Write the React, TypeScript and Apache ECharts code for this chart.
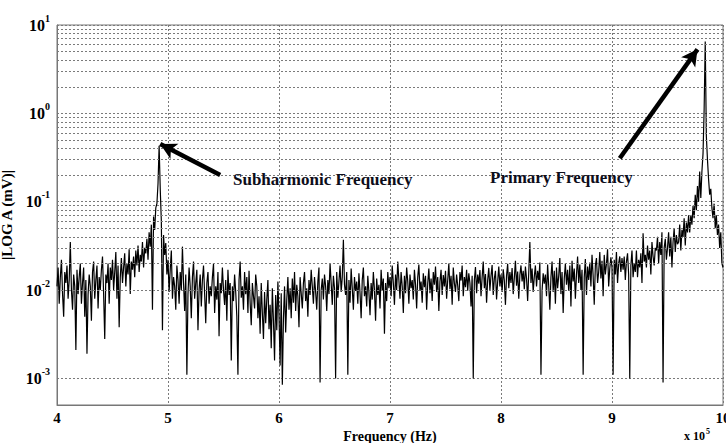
import React, { useEffect, useRef } from "react";
import * as echarts from "echarts";

// Frequency grid (x 10^5 Hz): 4.00 .. 10.00 in steps of 0.01
const FREQ_START = 4;
const FREQ_STEP = 0.01;

// |A| (mV), one row per 0.1 x 10^5 Hz
const amp4 = [
  0.011, 0.018, 0.007, 0.014, 0.022, 0.009, 0.005, 0.016, 0.012, 0.019,
  0.008, 0.013, 0.035, 0.010, 0.006, 0.015, 0.011, 0.0021, 0.017, 0.009,
  0.014, 0.020, 0.007, 0.012, 0.018, 0.005, 0.013, 0.0019, 0.009, 0.015,
  0.011, 0.0045, 0.016, 0.021, 0.008, 0.013, 0.019, 0.0062, 0.014, 0.010,
  0.017, 0.024, 0.009, 0.0028, 0.015, 0.012, 0.020, 0.007, 0.018, 0.013,
  0.022, 0.010, 0.016, 0.027, 0.008, 0.019, 0.0038, 0.014, 0.023, 0.012,
  0.018, 0.026, 0.011, 0.020, 0.015, 0.029, 0.009, 0.021, 0.017, 0.024,
  0.014, 0.028, 0.019, 0.032, 0.016, 0.025, 0.021, 0.035, 0.018, 0.030,
  0.026, 0.038, 0.022, 0.045, 0.031, 0.055, 0.006, 0.068, 0.048, 0.085,
  0.095, 0.16, 0.43, 0.14, 0.06, 0.0035, 0.042, 0.025, 0.034, 0.015,
];
const amp5 = [
  0.022, 0.0095, 0.017, 0.028, 0.008, 0.014, 0.011, 0.006, 0.019, 0.013,
  0.007, 0.016, 0.010, 0.031, 0.012, 0.0058, 0.015, 0.0011, 0.009, 0.018,
  0.011, 0.0048, 0.014, 0.021, 0.008, 0.012, 0.017, 0.0035, 0.010, 0.015,
  0.0065, 0.013, 0.019, 0.009, 0.0042, 0.012, 0.016, 0.007, 0.011, 0.0085,
  0.014, 0.020, 0.0055, 0.011, 0.0078, 0.016, 0.003, 0.012, 0.0092, 0.018,
  0.010, 0.0068, 0.013, 0.0045, 0.017, 0.0088, 0.012, 0.0016, 0.011, 0.0075,
  0.015, 0.0095, 0.005, 0.0011, 0.013, 0.021, 0.0082, 0.011, 0.006, 0.016,
  0.009, 0.014, 0.0055, 0.0165, 0.0072, 0.004, 0.012, 0.0085, 0.0062, 0.015,
  0.011, 0.0048, 0.0085, 0.0032, 0.012, 0.0055, 0.0028, 0.0095, 0.0042, 0.0078,
  0.013, 0.0036, 0.0068, 0.0022, 0.0105, 0.0045, 0.0016, 0.0088, 0.0035, 0.0125,
];
const amp6 = [
  0.0052, 0.0014, 0.0092, 0.00085, 0.0048, 0.011, 0.0033, 0.0078, 0.014, 0.006,
  0.0105, 0.0048, 0.0135, 0.0072, 0.016, 0.0058, 0.0115, 0.0085, 0.0038, 0.014,
  0.0092, 0.0062, 0.012, 0.016, 0.0075, 0.0105, 0.005, 0.013, 0.0088, 0.017,
  0.011, 0.007, 0.014, 0.0095, 0.006, 0.0125, 0.018, 0.0009, 0.01, 0.0135,
  0.0078, 0.015, 0.011, 0.0058, 0.013, 0.009, 0.02, 0.012, 0.0068, 0.0145,
  0.0105, 0.001, 0.016, 0.0082, 0.0125, 0.019, 0.0095, 0.014, 0.037, 0.0115,
  0.0088, 0.016, 0.0011, 0.013, 0.0072, 0.0175, 0.0105, 0.006, 0.014, 0.0098,
  0.0125, 0.007, 0.0155, 0.0092, 0.0048, 0.013, 0.018, 0.0085, 0.011, 0.0065,
  0.0145, 0.0095, 0.0052, 0.012, 0.0078, 0.016, 0.01, 0.0045, 0.0135, 0.0088,
  0.0115, 0.0062, 0.017, 0.0098, 0.0135, 0.0032, 0.012, 0.0075, 0.016, 0.0105,
];
const amp7 = [
  0.014, 0.0085, 0.019, 0.012, 0.0068, 0.015, 0.01, 0.021, 0.013, 0.008,
  0.016, 0.011, 0.0055, 0.0145, 0.0092, 0.018, 0.0125, 0.007, 0.015, 0.0105,
  0.013, 0.0078, 0.017, 0.0115, 0.0062, 0.014, 0.0195, 0.0098, 0.0125, 0.0072,
  0.0155, 0.0108, 0.0145, 0.006, 0.012, 0.0175, 0.0092, 0.0135, 0.0075, 0.016,
  0.0115, 0.0185, 0.0095, 0.014, 0.0058, 0.0125, 0.017, 0.0088, 0.0148, 0.011,
  0.0165, 0.008, 0.013, 0.02, 0.0102, 0.0145, 0.0068, 0.018, 0.012, 0.0095,
  0.015, 0.0112, 0.0075, 0.016, 0.0128, 0.019, 0.0085, 0.014, 0.0108, 0.017,
  0.0098, 0.0155, 0.012, 0.0065, 0.0145, 0.001, 0.013, 0.0182, 0.0092, 0.015,
  0.0118, 0.0168, 0.0085, 0.014, 0.021, 0.0105, 0.0152, 0.0072, 0.013, 0.0178,
  0.01, 0.0145, 0.0192, 0.0088, 0.0135, 0.0165, 0.0078, 0.0125, 0.0185, 0.011,
];
const amp8 = [
  0.015, 0.0095, 0.0172, 0.0128, 0.0068, 0.0145, 0.0198, 0.0105, 0.016, 0.012,
  0.0178, 0.009, 0.0138, 0.0215, 0.0112, 0.0162, 0.008, 0.0148, 0.019, 0.0125,
  0.0165, 0.0102, 0.0185, 0.0135, 0.0075, 0.0158, 0.035, 0.012, 0.0175, 0.0095,
  0.0142, 0.019, 0.011, 0.0165, 0.013, 0.0205, 0.0011, 0.0098, 0.0155, 0.0118,
  0.015, 0.0085, 0.0195, 0.011, 0.006, 0.014, 0.021, 0.0095, 0.0165, 0.007,
  0.018, 0.0105, 0.0145, 0.023, 0.009, 0.016, 0.0055, 0.0135, 0.02, 0.0115,
  0.017, 0.0098, 0.019, 0.0065, 0.0215, 0.0125, 0.0175, 0.008, 0.015, 0.024,
  0.012, 0.0195, 0.01, 0.017, 0.0011, 0.014, 0.0225, 0.0088, 0.0185, 0.013,
  0.0205, 0.011, 0.025, 0.0145, 0.0068, 0.019, 0.023, 0.012, 0.016, 0.027,
  0.0135, 0.0215, 0.0085, 0.025, 0.015, 0.0198, 0.029, 0.011, 0.0175, 0.0235,
];
const amp9 = [
  0.018, 0.0011, 0.022, 0.015, 0.027, 0.012, 0.02, 0.024, 0.016, 0.023,
  0.017, 0.024, 0.013, 0.021, 0.026, 0.015, 0.001, 0.019, 0.028, 0.014,
  0.02, 0.016, 0.028, 0.014, 0.022, 0.018, 0.026, 0.012, 0.044, 0.021,
  0.025, 0.018, 0.032, 0.022, 0.028, 0.015, 0.035, 0.024, 0.019, 0.03,
  0.028, 0.04, 0.02, 0.035, 0.025, 0.045, 0.0009, 0.03, 0.038, 0.022,
  0.03, 0.045, 0.024, 0.04, 0.018, 0.035, 0.05, 0.027, 0.042, 0.033,
  0.035, 0.055, 0.028, 0.048, 0.04, 0.065, 0.032, 0.058, 0.045, 0.07,
  0.045, 0.07, 0.055, 0.09, 0.065, 0.12, 0.08, 0.15, 0.1, 0.22,
  0.11, 0.22, 0.35, 1.1, 6.5, 0.55, 0.3, 0.18, 0.12, 0.14,
  0.085, 0.065, 0.095, 0.05, 0.07, 0.042, 0.055, 0.03, 0.045, 0.02,
];
const amp10 = [0.018];

const xTicks = [4, 5, 6, 7, 8, 9, 10];
const yMin = 0.0005;
const yMax = 10;
const minorMantissas = [2, 3, 4, 5, 6, 7, 8, 9];
const decades = [0.0001, 0.001, 0.01, 0.1, 1];

// Annotation arrows: [tail, head] in data coordinates
const subharmonicArrow = [[5.47, 0.2], [4.93, 0.45]];
const primaryArrow = [[9.07, 0.31], [9.77, 5.3]];

const SERIF = '"Liberation Serif", "Times New Roman", serif';

export default function App() {
  const ref = useRef<HTMLDivElement>(null);

  useEffect(() => {
    const chart = echarts.init(ref.current!, null, { renderer: "svg" });
    const amps = [...amp4, ...amp5, ...amp6, ...amp7, ...amp8, ...amp9, ...amp10];
    const points = amps.map((a, i) => [+(FREQ_START + i * FREQ_STEP).toFixed(2), a]);
    const minorGrid: number[] = [];
    decades.forEach((d) =>
      minorMantissas.forEach((m) => {
        const v = m * d;
        if (v > yMin * 0.999 && v < yMax) minorGrid.push(v);
      })
    );
    const gridLine = { type: [2, 2] as any, color: "#7a7a7a", width: 1 };

    chart.setOption({
      animation: false,
      backgroundColor: "#fff",
      grid: {
        left: 57,
        right: 3,
        top: 25,
        bottom: 38,
        show: true,
        borderColor: "#777",
        borderWidth: 1,
        outerBoundsMode: "none",
        containLabel: false,
      },
      xAxis: {
        type: "value",
        min: xTicks[0],
        max: xTicks[xTicks.length - 1],
        interval: 1,
        axisLine: { show: true, lineStyle: { color: "#777" } },
        axisTick: { show: false },
        axisLabel: {
          color: "#000",
          fontFamily: SERIF,
          fontWeight: "bold",
          fontSize: 15,
          margin: 5,
        },
        splitLine: { show: true, lineStyle: gridLine },
        name: "Frequency (Hz)",
        nameLocation: "middle",
        nameGap: 22,
        nameTextStyle: {
          color: "#000",
          fontFamily: SERIF,
          fontWeight: "bold",
          fontSize: 14,
        },
      },
      yAxis: {
        type: "log",
        logBase: 10,
        min: yMin,
        max: yMax,
        axisLine: { show: true, lineStyle: { color: "#777" } },
        axisTick: { show: false },
        axisLabel: {
          margin: 7,
          formatter: (v: number) => {
            const e = Math.log10(v);
            const r = Math.round(e);
            if (Math.abs(e - r) > 1e-6) return "";
            return `{b|10}{s|${r}}`;
          },
          rich: {
            b: {
              fontFamily: SERIF,
              fontWeight: "bold",
              fontSize: 16,
              color: "#000",
              lineHeight: 24,
            },
            s: {
              fontFamily: SERIF,
              fontWeight: "bold",
              fontSize: 10,
              color: "#000",
              verticalAlign: "top",
              lineHeight: 12,
            },
          },
        },
        splitLine: { show: true, lineStyle: gridLine },
        name: "|LOG A (mV)|",
        nameLocation: "middle",
        nameGap: 31,
        nameRotate: 90,
        nameTextStyle: {
          color: "#000",
          fontFamily: SERIF,
          fontWeight: "bold",
          fontSize: 15,
        },
      },
      series: [
        {
          type: "line",
          data: [],
          z: 1,
          silent: true,
          markLine: {
            silent: true,
            symbol: "none",
            label: { show: false },
            lineStyle: gridLine,
            data: minorGrid.map((v) => ({ yAxis: v })),
          },
        },
        {
          type: "line",
          data: points,
          z: 3,
          showSymbol: false,
          lineStyle: { color: "#000", width: 1.2 },
          silent: true,
        },
        {
          type: "line",
          data: [],
          z: 5,
          silent: true,
          markLine: {
            silent: true,
            symbol: ["none", "arrow"],
            symbolSize: [13, 16],
            label: { show: false },
            lineStyle: { color: "#000", width: 4.5, type: "solid" },
            data: [
              [{ coord: subharmonicArrow[0] }, { coord: subharmonicArrow[1] }],
              [{ coord: primaryArrow[0] }, { coord: primaryArrow[1] }],
            ],
          },
        },
      ],
      graphic: [
        {
          type: "text",
          left: 233,
          top: 171,
          z: 10,
          style: {
            text: "Subharmonic Frequency",
            font: `bold 17px ${SERIF}`,
            fill: "#0d0d1a",
          },
        },
        {
          type: "text",
          left: 490,
          top: 169,
          z: 10,
          style: {
            text: "Primary Frequency",
            font: `bold 17px ${SERIF}`,
            fill: "#0d0d1a",
          },
        },
        {
          type: "text",
          left: 684,
          top: 430,
          z: 10,
          style: { text: "x 10", font: `bold 12px ${SERIF}`, fill: "#000" },
        },
        {
          type: "text",
          left: 706,
          top: 427,
          z: 10,
          style: { text: "5", font: `bold 8px ${SERIF}`, fill: "#000" },
        },
      ],
    });

    return () => chart.dispose();
  }, []);

  return (
    <div
      ref={ref}
      style={{
        position: "fixed",
        left: 0,
        top: 0,
        width: 726,
        height: 443,
        background: "#fff",
      }}
    />
  );
}
